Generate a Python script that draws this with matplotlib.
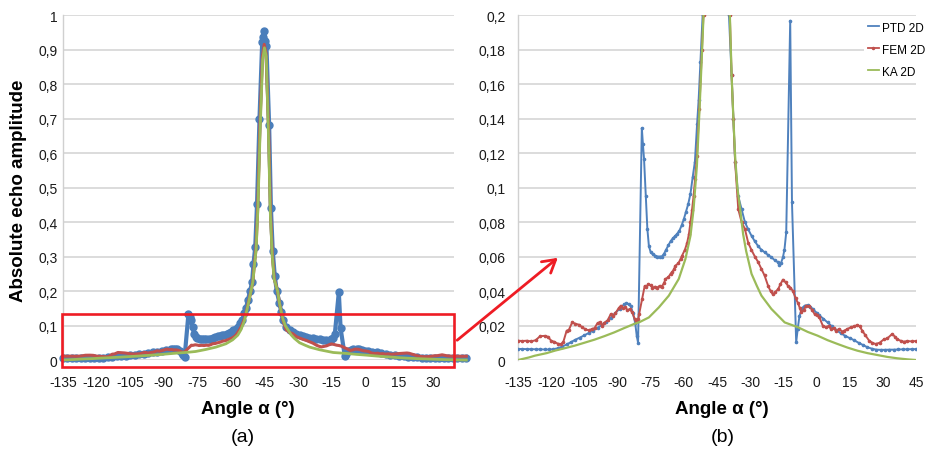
import matplotlib
matplotlib.use("Agg")
import matplotlib.pyplot as plt
from matplotlib.patches import Rectangle, FancyArrowPatch
from matplotlib.lines import Line2D

# ---------------- data ----------------
ptd_angle = [-135, -133, -131, -129, -127, -125, -123, -121, -119, -117, -115, -113, -111, -109,
             -107, -105, -103, -101, -99, -97, -95, -93, -91, -89, -87, -86, -85, -84, -83, -82,
             -81.3, -80.7, -79.0, -78.5, -78.0, -77.2, -76.5, -75.8, -75, -74, -73, -72, -71, -70,
             -69, -68, -67, -66, -65, -64, -63, -62, -61, -60, -59, -58, -57, -56, -55, -54, -53.3,
             -52.5, -51.5, -50.6, -50.0, -49.2, -48.4, -47.3, -46.1, -45.7, -45.3, -44.8, -44.2,
             -43.0, -42.2, -41.4, -40.5, -39.6, -38.4, -37.6, -36.8, -35.4, -33.9, -32.4, -31,
             -29.4, -28, -26.4, -25, -23.4, -22, -20.4, -19, -17.4, -16.9, -16, -15.2, -14.5,
             -13.7, -11.9, -11.1, -9.2, -8.5, -7.7, -6.5, -5.4, -4, -3, -1.7, 0, 1, 3, 5, 7, 9,
             11, 13, 15, 17, 19, 21, 23, 25, 27, 29, 31, 33, 35, 37, 39, 41, 43, 45]
ptd_value = [0.0064, 0.0064, 0.0063, 0.0063, 0.0062, 0.0062, 0.0061, 0.0061, 0.0063, 0.0068,
             0.0078, 0.0090, 0.0104, 0.0118, 0.0130, 0.0143, 0.0157, 0.0171, 0.0187, 0.0203,
             0.0222, 0.0245, 0.0272, 0.0298, 0.0322, 0.0328, 0.0325, 0.0312, 0.0270, 0.0215,
             0.0140, 0.0100, 0.1345, 0.125, 0.1165, 0.095, 0.076, 0.066, 0.0625, 0.0612, 0.0605,
             0.0600, 0.0600, 0.0600, 0.0615, 0.0640, 0.0665, 0.0688, 0.0705, 0.0718, 0.0732,
             0.0750, 0.0780, 0.0817, 0.0860, 0.0905, 0.0965, 0.1060, 0.1150, 0.1370, 0.1510,
             0.1726, 0.200, 0.225, 0.278, 0.327, 0.452, 0.700, 0.921, 0.935, 0.953, 0.925, 0.911,
             0.680, 0.440, 0.317, 0.244, 0.200, 0.165, 0.140, 0.1146, 0.095, 0.0875, 0.080, 0.076,
             0.072, 0.069, 0.066, 0.064, 0.0624, 0.0610, 0.0595, 0.0580, 0.0566, 0.0550, 0.0565,
             0.0595, 0.064, 0.074, 0.1967, 0.0914, 0.0103, 0.018, 0.0257, 0.030, 0.0315, 0.0318,
             0.031, 0.0296, 0.0275, 0.0262, 0.024, 0.0218, 0.0195, 0.0173, 0.0155, 0.0140, 0.0127,
             0.0115, 0.0100, 0.0087, 0.0074, 0.0066, 0.0060, 0.0059, 0.0059, 0.0060, 0.0060,
             0.0061, 0.0062, 0.0062, 0.0063, 0.0063]

fem_angle = [-135, -133, -131, -129, -127, -125, -123, -121.5, -120, -118.5, -117, -115.5, -114.5,
             -113, -112, -110.5, -109, -107.5, -106, -104.5, -103, -101.5, -100.4, -99, -98, -97,
             -96, -94.5, -93, -92, -91, -89.5, -88.5, -87.5, -86.5, -85.5, -84.5, -83.3, -82.3,
             -81.7, -80.7, -80.2, -78.8, -77.7, -77, -76, -75, -74.3, -73, -72, -71, -70, -69,
             -68.3, -67, -66, -65.3, -64.5, -63.8, -62.5, -61.5, -60.8, -59.5, -58.5, -57.7, -57.0,
             -56.3, -55.6, -54.9, -54.1, -53.0, -51.8, -51.1, -50.3, -49.7, -48.9, -48.1, -47.1,
             -46.0, -45.2, -44.4, -43.2, -42.4, -41.6, -40.7, -39.2, -38.4, -37.6, -36.8, -35.4,
             -33.9, -32.4, -30.9, -29.5, -27.9, -26.5, -24.9, -23.5, -21.9, -20.8, -19.7, -18.6,
             -17.4, -16.3, -15.2, -14, -12.9, -11.8, -10.7, -9.5, -8.4, -7.5, -6.9, -5.8, -4.7,
             -3.2, -2, -0.9, 0.3, 1.3, 2.8, 4.3, 5.5, 6.5, 7.7, 8.8, 10.3, 11.5, 12.5, 14, 15.5,
             17, 18.5, 19.5, 20.7, 22, 23.8, 25.2, 26.7, 28.5, 30.5, 32, 34.2, 35.5, 36.5, 38,
             39.5, 41, 43, 45]
fem_value = [0.0112, 0.0110, 0.0112, 0.0108, 0.0115, 0.0138, 0.0140, 0.0135, 0.0112, 0.0105,
             0.0095, 0.0092, 0.0105, 0.0170, 0.0175, 0.0218, 0.0210, 0.0205, 0.0190, 0.0178,
             0.0172, 0.0180, 0.0185, 0.0215, 0.0218, 0.0200, 0.0215, 0.0230, 0.0267, 0.0255,
             0.0270, 0.0300, 0.0315, 0.0300, 0.0305, 0.0290, 0.0295, 0.0276, 0.0240, 0.0228,
             0.0235, 0.0267, 0.0354, 0.0430, 0.0425, 0.0441, 0.0432, 0.0420, 0.0425, 0.0420,
             0.0430, 0.0425, 0.0445, 0.0470, 0.0480, 0.0500, 0.0510, 0.0525, 0.0547, 0.0560,
             0.0585, 0.0605, 0.0640, 0.0680, 0.0730, 0.0800, 0.0870, 0.0950, 0.1050, 0.1180,
             0.1455, 0.180, 0.200, 0.225, 0.27, 0.32, 0.44, 0.68, 0.88, 0.915, 0.89, 0.66, 0.43,
             0.31, 0.235, 0.200, 0.165, 0.140, 0.1146, 0.0875, 0.0800, 0.0760, 0.0680, 0.0640,
             0.0600, 0.0570, 0.0528, 0.0490, 0.0430, 0.0400, 0.0380, 0.0395, 0.0410, 0.0440,
             0.0466, 0.0450, 0.0430, 0.0420, 0.0400, 0.0360, 0.0330, 0.0300, 0.0276, 0.0290,
             0.0315, 0.0312, 0.0290, 0.0267, 0.0260, 0.0247, 0.0200, 0.0190, 0.0198, 0.0180,
             0.0185, 0.0170, 0.0180, 0.0165, 0.0170, 0.0180, 0.0190, 0.0195, 0.0203, 0.0195,
             0.0170, 0.0145, 0.0112, 0.0100, 0.0093, 0.0100, 0.0120, 0.0125, 0.0151, 0.0135,
             0.0120, 0.0112, 0.0106, 0.0110, 0.0108, 0.0110]

ka_angle = [-135, -130, -127.4, -122, -118.4, -114, -109.4, -105, -100.4, -96, -91.5, -87, -82.5,
            -80, -75.8, -71.3, -66.8, -62.3, -59.3, -57, -55.6, -54.1, -52.9, -51.8, -51.1, -50.3,
            -49.6, -48.8, -48.0, -47.0, -45.9, -45.1, -44.3, -43.3, -42.5, -41.7, -40.8, -39.2,
            -38.4, -37.6, -36.8, -35.8, -34.5, -33.2, -31.8, -29.4, -27, -24.9, -20.4, -14.4,
            -8.4, -4, 0.5, 5, 9.5, 14, 18.5, 23, 27.5, 32, 36.5, 41, 45]
ka_value = [0.0, 0.0015, 0.0025, 0.0040, 0.0054, 0.0068, 0.0083, 0.0100, 0.0118, 0.0138, 0.0160,
            0.0185, 0.0209, 0.0220, 0.0247, 0.0305, 0.0373, 0.0470, 0.0585, 0.0720, 0.0875,
            0.1126, 0.1455, 0.178, 0.200, 0.225, 0.27, 0.32, 0.44, 0.67, 0.87, 0.905, 0.88, 0.65,
            0.43, 0.31, 0.235, 0.200, 0.165, 0.140, 0.118, 0.100, 0.087, 0.073, 0.063, 0.050,
            0.0430, 0.0373, 0.0296, 0.0218, 0.0190, 0.0163, 0.0141, 0.0115, 0.0093, 0.0072,
            0.0054, 0.0040, 0.0029, 0.0018, 0.0010, 0.0004, 0.0]

x_ticks = [-135, -120, -105, -90, -75, -60, -45, -30, -15, 0, 15, 30, 45]
left_yticks = [0, 0.1, 0.2, 0.3, 0.4, 0.5, 0.6, 0.7, 0.8, 0.9, 1.0]
left_ylabels = ["0", "0,1", "0,2", "0,3", "0,4", "0,5", "0,6", "0,7", "0,8", "0,9", "1"]
right_yticks = [0, 0.02, 0.04, 0.06, 0.08, 0.10, 0.12, 0.14, 0.16, 0.18, 0.20]
right_ylabels = ["0", "0,02", "0,04", "0,06", "0,08", "0,1", "0,12", "0,14", "0,16", "0,18", "0,2"]
series_names = ["PTD 2D", "FEM 2D", "KA 2D"]

# ---------------- style ----------------
BLUE = "#4a7ebb"
RED = "#c0504d"
GREEN = "#9bbb59"
GRID = "#d9d9d9"
FONT = ["Liberation Sans", "DejaVu Sans"]

fig = plt.figure(figsize=(9.25, 4.52), dpi=100)
axL = fig.add_axes([0.0681, 0.2013, 0.4227, 0.7633])
axR = fig.add_axes([0.5600, 0.2013, 0.4303, 0.7633])


def style_axes(ax, xlim, yticks, ylabels, ypad):
    ax.set_xlim(*xlim)
    ax.set_ylim(yticks[0], yticks[-1])
    ax.set_yticks(yticks)
    ax.set_yticklabels(ylabels)
    ticks = [t for t in x_ticks if t <= xlim[1] + 0.01]
    ax.set_xticks(ticks)
    ax.set_xticklabels([str(t) for t in ticks])
    ax.tick_params(axis="both", length=0, labelsize=10, colors="#1a1a1a")
    ax.tick_params(axis="x", pad=11)
    ax.tick_params(axis="y", pad=ypad)
    for lab in ax.get_xticklabels() + ax.get_yticklabels():
        lab.set_family(FONT)
    ax.grid(axis="y", color=GRID, linewidth=1.3)
    ax.set_axisbelow(True)
    for s in ["top", "right", "bottom"]:
        ax.spines[s].set_visible(False)
    ax.spines["left"].set_color("#d0d0d0")
    ax.spines["left"].set_linewidth(1.0)


style_axes(axL, (-135, 39.5), left_yticks, left_ylabels, 4)
style_axes(axR, (-135, 45), right_yticks, right_ylabels, 9)

# left panel
axL.plot(ptd_angle, ptd_value, color=BLUE, lw=3.0, marker="o", ms=5.0, mec=BLUE, mfc=BLUE,
         clip_on=False, zorder=3)
axL.plot(fem_angle, fem_value, color=RED, lw=2.2, clip_on=False, zorder=4)
axL.plot(ka_angle, ka_value, color=GREEN, lw=2.0, clip_on=False, zorder=5)

# right panel
axR.plot(ptd_angle, ptd_value, color="#4f81bd", lw=1.4, marker="o", ms=1.6, zorder=3)
axR.plot(fem_angle, fem_value, color=RED, lw=1.4, marker="o", ms=1.6, zorder=4)
axR.plot(ka_angle, ka_value, color=GREEN, lw=1.6, zorder=5)

# zoom rectangle on the left panel
axL.add_patch(Rectangle((-135.3, -0.019), 174.6, 0.152, fill=False, edgecolor="#ee1c24",
                        linewidth=1.9, clip_on=False, zorder=6))

# arrow to the right panel
fig.add_artist(FancyArrowPatch((455 / 925, 1 - 343 / 452), (560 / 925, 1 - 257 / 452),
                               transform=fig.transFigure, arrowstyle="->,head_length=6,head_width=3.5",
                               color="#ee1c24", linewidth=2.0, mutation_scale=1.5))

# legend
handles = [Line2D([], [], color="#4f81bd", lw=1.3),
           Line2D([], [], color=RED, lw=1.3, marker="o", ms=1.5),
           Line2D([], [], color=GREEN, lw=1.3)]
leg = fig.legend(handles, series_names, loc="upper left",
                 bbox_to_anchor=(864 / 925, 1 - 19 / 452), bbox_transform=fig.transFigure,
                 frameon=True, fancybox=False, framealpha=1, edgecolor="white",
                 handlelength=1.0, handletextpad=0.2, labelspacing=0.85, borderpad=0.3,
                 borderaxespad=0, prop={"family": FONT, "size": 8.5})
leg.get_frame().set_linewidth(0)

# labels
fig.text(0.0195, 0.577, "Absolute echo amplitude", rotation=90, ha="center", va="center",
         fontsize=13.5, fontweight="bold", family=FONT)
fig.text(248 / 925, 1 - 410 / 452, "Angle α (°)", ha="center", va="center", fontsize=13.5,
         fontweight="bold", family=FONT)
fig.text(722 / 925, 1 - 410 / 452, "Angle α (°)", ha="center", va="center", fontsize=13.5,
         fontweight="bold", family=FONT)
fig.text(243 / 925, 1 - 438 / 452, "(a)", ha="center", va="center", fontsize=14, family=FONT)
fig.text(723 / 925, 1 - 438 / 452, "(b)", ha="center", va="center", fontsize=14, family=FONT)

fig.savefig("out.png", dpi=100, facecolor="white")
